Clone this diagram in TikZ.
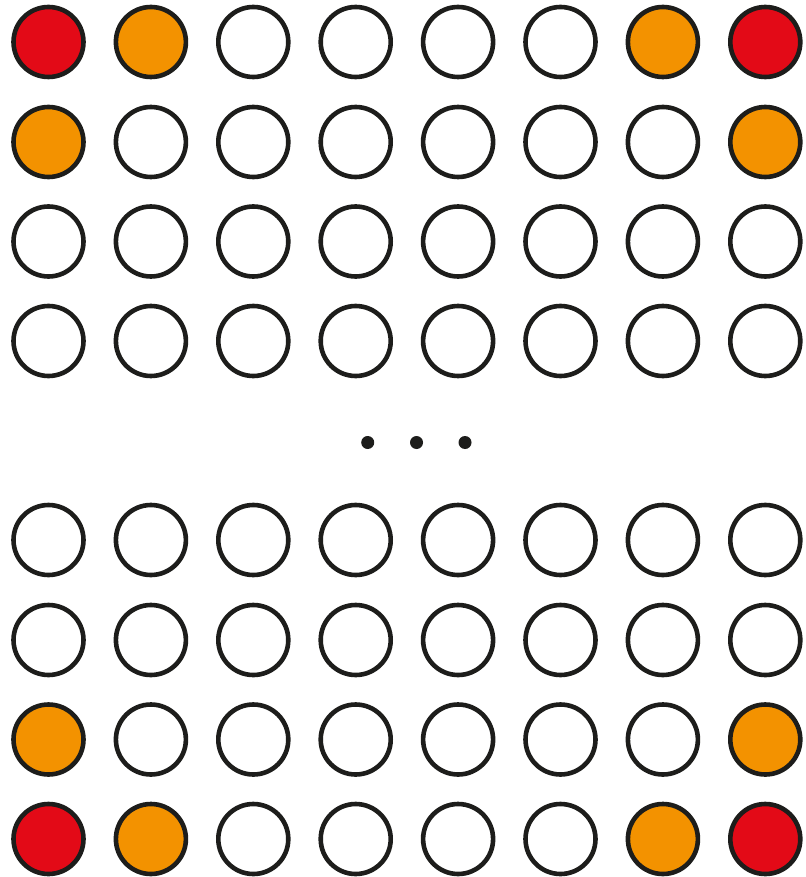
\documentclass[tikz,border=0pt]{standalone}
\usetikzlibrary{calc}
\definecolor{ink}{HTML}{1D1D1B}
\definecolor{cred}{HTML}{E30A17}
\definecolor{corange}{HTML}{F39200}
\tikzset{
  pin/.style={circle, draw=ink, line width=4.6pt, minimum size=70pt, inner sep=0pt, fill=white},
  pinred/.style={pin, fill=cred},
  pinorange/.style={pin, fill=corange},
  ellip/.style={circle, fill=ink, minimum size=13pt, inner sep=0pt}
}
\begin{document}
\begin{tikzpicture}[x=1pt,y=-1pt]
\useasboundingbox (0,0) rectangle (805,877);
\foreach \r/\yy in {1/42,2/142,3/241.5,4/341,5/540,6/640,7/739.5,8/839}{
  \foreach \c in {1,...,8}{
    \pgfmathsetmacro{\xx}{48.5+(\c-1)*102.4}
    \def\st{pin}
    \ifnum\r=1 \ifnum\c=1 \def\st{pinred}\fi \ifnum\c=8 \def\st{pinred}\fi \ifnum\c=2 \def\st{pinorange}\fi \ifnum\c=7 \def\st{pinorange}\fi\fi
    \ifnum\r=8 \ifnum\c=1 \def\st{pinred}\fi \ifnum\c=8 \def\st{pinred}\fi \ifnum\c=2 \def\st{pinorange}\fi \ifnum\c=7 \def\st{pinorange}\fi\fi
    \ifnum\r=2 \ifnum\c=1 \def\st{pinorange}\fi \ifnum\c=8 \def\st{pinorange}\fi\fi
    \ifnum\r=7 \ifnum\c=1 \def\st{pinorange}\fi \ifnum\c=8 \def\st{pinorange}\fi\fi
    \node[\st] (p-\r-\c) at (\xx,\yy) {};
  }
}
\node[ellip] (d1) at (367.7,442.5) {};
\node[ellip] (d2) at (416.5,442.5) {};
\node[ellip] (d3) at (465,442.5) {};
\end{tikzpicture}
\end{document}
